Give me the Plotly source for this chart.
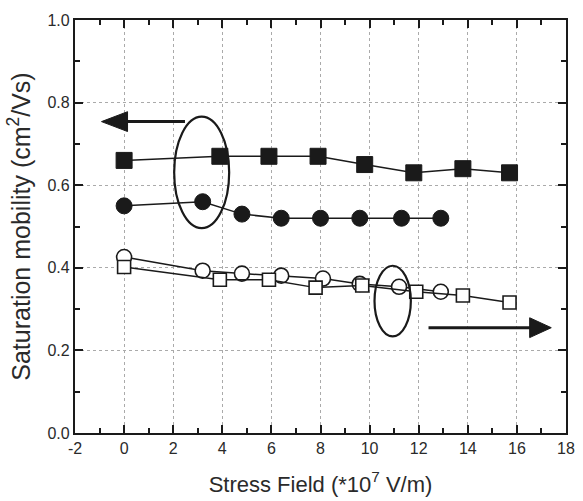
import plotly.graph_objects as go

# Data
x_fsq = [0, 3.9, 5.9, 7.9, 9.8, 11.8, 13.8, 15.7]
y_fsq = [0.66, 0.67, 0.67, 0.67, 0.65, 0.63, 0.64, 0.63]

x_fci = [0, 3.2, 4.8, 6.4, 8.0, 9.6, 11.3, 12.9]
y_fci = [0.55, 0.56, 0.53, 0.52, 0.52, 0.52, 0.52, 0.52]

x_oci = [0, 3.2, 4.8, 6.4, 8.1, 9.6, 11.2, 12.9]
y_oci = [0.426, 0.393, 0.386, 0.381, 0.374, 0.361, 0.354, 0.342]

x_osq = [0, 3.9, 5.9, 7.8, 9.7, 11.9, 13.8, 15.7]
y_osq = [0.402, 0.371, 0.371, 0.352, 0.357, 0.342, 0.333, 0.316]

x_ticks = [-2, 0, 2, 4, 6, 8, 10, 12, 14, 16, 18]
y_ticks = [0.0, 0.2, 0.4, 0.6, 0.8, 1.0]

fig = go.Figure()

def add(xs, ys, symbol, fill, size, lw):
    fig.add_trace(go.Scatter(
        x=xs, y=ys, mode="lines+markers",
        line=dict(color="#1a1a1a", width=1.5),
        marker=dict(symbol=symbol, size=size, color=fill,
                    line=dict(color="#1a1a1a", width=lw)),
        showlegend=False, cliponaxis=False))

add(x_oci, y_oci, "circle", "white", 15, 1.6)
add(x_osq, y_osq, "square", "white", 13, 1.6)
add(x_fsq, y_fsq, "square", "#1a1a1a", 16, 1)
add(x_fci, y_fci, "circle", "#1a1a1a", 16, 1)

ink = "#1a1a1a"
shapes = [
    # ellipses
    dict(type="circle", xref="x", yref="y", x0=2.04, x1=4.28, y0=0.496, y1=0.766,
         line=dict(color=ink, width=2.2)),
    dict(type="circle", xref="x", yref="y", x0=10.2, x1=11.68, y0=0.234, y1=0.405,
         line=dict(color=ink, width=2.2)),
    # left arrow
    dict(type="line", xref="x", yref="y", x0=2.48, x1=0.1, y0=0.754, y1=0.754,
         line=dict(color=ink, width=3)),
    dict(type="path", xref="x", yref="y",
         path="M 0.14 0.778 L -0.92 0.754 L 0.14 0.730 Z",
         fillcolor=ink, line=dict(color=ink, width=1)),
    # right arrow
    dict(type="line", xref="x", yref="y", x0=12.4, x1=16.6, y0=0.255, y1=0.255,
         line=dict(color=ink, width=3)),
    dict(type="path", xref="x", yref="y",
         path="M 16.52 0.279 L 17.4 0.255 L 16.52 0.231 Z",
         fillcolor=ink, line=dict(color=ink, width=1)),
]

font = "Liberation Sans, Arial, Helvetica, sans-serif"
txt = "#2a2a2a"

fig.update_layout(
    width=583, height=501,
    margin=dict(l=75, r=8, t=20, b=66),
    paper_bgcolor="white", plot_bgcolor="white",
    shapes=shapes,
    font=dict(family=font, color=txt),
    xaxis=dict(
        range=[-2, 18], tickvals=x_ticks, ticktext=[str(v) for v in x_ticks],
        showline=True, linecolor=ink, linewidth=2.2, mirror="allticks",
        ticks="inside", ticklen=8, tickwidth=2, tickcolor=ink,
        minor=dict(dtick=1, ticks="inside", ticklen=5, tickwidth=2, tickcolor=ink, showgrid=False),
        showgrid=True, gridcolor="#aaaaaa", griddash="dot", gridwidth=1,
        zeroline=False,
        tickfont=dict(size=16, color=txt),
        title=dict(text="Stress Field (*10<sup>7</sup> V/m)", font=dict(size=22, color=txt), standoff=20),
    ),
    yaxis=dict(
        range=[0, 1.0], tickvals=y_ticks, ticktext=["%.1f" % v for v in y_ticks],
        showline=True, linecolor=ink, linewidth=2.2, mirror="allticks",
        ticks="inside", ticklen=8, tickwidth=2, tickcolor=ink,
        minor=dict(dtick=0.1, ticks="inside", ticklen=5, tickwidth=2, tickcolor=ink, showgrid=False),
        showgrid=True, gridcolor="#aaaaaa", griddash="dot", gridwidth=1,
        zeroline=False,
        tickfont=dict(size=16, color=txt),
        title=dict(text="Saturation mobility (cm<sup>2</sup>/Vs)", font=dict(size=25, color=txt), standoff=10),
    ),
)

fig.write_html("out.html")
